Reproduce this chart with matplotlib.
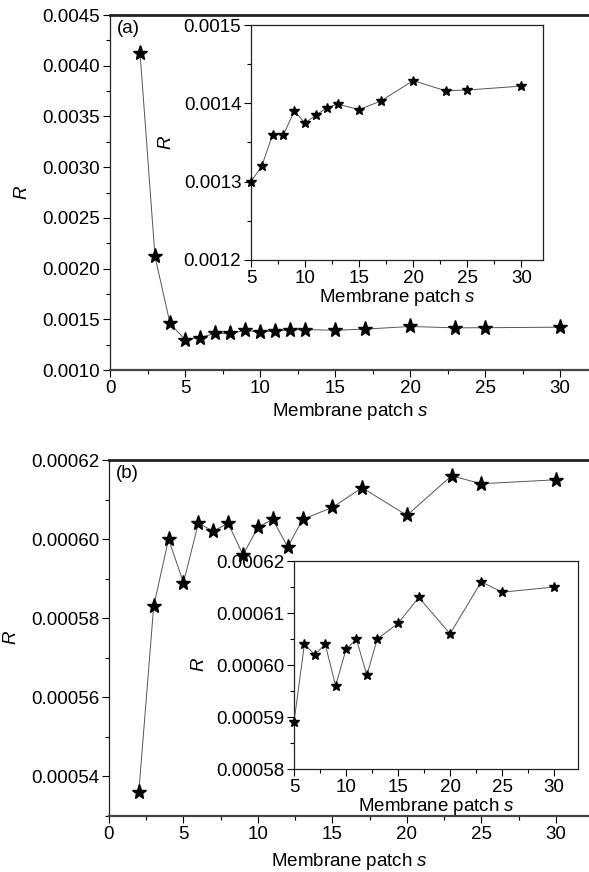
import numpy as np
import matplotlib
matplotlib.use("Agg")
import matplotlib.pyplot as plt
from matplotlib.ticker import MultipleLocator, FormatStrFormatter

plt.rcParams['font.family'] = ['Liberation Sans', 'DejaVu Sans']
plt.rcParams['font.size'] = 13.5
plt.rcParams['mathtext.fontset'] = 'custom'
plt.rcParams['mathtext.it'] = 'Liberation Sans:italic'

# membrane patch sizes
s = [2, 3, 4, 5, 6, 7, 8, 9, 10, 11, 12, 13, 15, 17, 20, 23, 25, 30]

# panel (a)
R_a = [0.00413, 0.00212, 0.00146, 0.00130, 0.00132, 0.00136, 0.00136, 0.00139,
       0.001375, 0.001385, 0.001394, 0.001399, 0.001392, 0.001403, 0.001429,
       0.001416, 0.001417, 0.001422]

# panel (b)
R_b = [0.000536, 0.000583, 0.000600, 0.000589, 0.000604, 0.000602, 0.000604,
       0.000596, 0.000603, 0.000605, 0.000598, 0.000605, 0.000608, 0.000613,
       0.000606, 0.000616, 0.000614, 0.000615]

W, H = 589, 872
fig = plt.figure(figsize=(W / 100, H / 100), dpi=100)


def box(l, t, r, b):
    return [l / W, 1 - b / H, (r - l) / W, (b - t) / H]


def style(ax, main):
    ax.tick_params(which='major', direction='out', length=5, width=0.8,
                   labelsize=13.5, pad=2)
    ax.tick_params(which='minor', direction='out', length=3, width=0.8)
    for sp in ax.spines.values():
        sp.set_linewidth(0.9)
        sp.set_color('#222222')
    if main:
        ax.spines['right'].set_visible(False)
        ax.spines['top'].set_linewidth(2.0)
        ax.spines['bottom'].set_linewidth(1.6)
        ax.spines['bottom'].set_color('#444444')


def draw(ax, x, y, ms):
    ax.plot(x, y, '-', color='#555555', lw=0.7, marker='*', ms=ms,
            mfc='black', mec='black', clip_on=False, zorder=3)


xlabel = 'Membrane patch $s$'

# ---- (a) main
ax1 = fig.add_axes(box(110, 15, 590, 370))
draw(ax1, s, R_a, 11)
ax1.set_xlim(0, 32)
ax1.set_ylim(0.0010, 0.0045)
ax1.xaxis.set_major_locator(MultipleLocator(5))
ax1.xaxis.set_minor_locator(MultipleLocator(2.5))
ax1.yaxis.set_major_locator(MultipleLocator(0.0005))
ax1.yaxis.set_minor_locator(MultipleLocator(0.00025))
ax1.yaxis.set_major_formatter(FormatStrFormatter('%.4f'))
ax1.set_xlabel(xlabel, labelpad=3)
ax1.set_ylabel('$R$', labelpad=8)
style(ax1, True)
ax1.text(0.015, 0.985, '(a)', transform=ax1.transAxes, va='top', ha='left')

# ---- (a) inset
ax1i = fig.add_axes(box(251, 25, 543, 260))
draw(ax1i, s[3:], R_a[3:], 7)
ax1i.set_xlim(5, 32)
ax1i.set_ylim(0.0012, 0.0015)
ax1i.xaxis.set_major_locator(MultipleLocator(5))
ax1i.xaxis.set_minor_locator(MultipleLocator(2.5))
ax1i.yaxis.set_major_locator(MultipleLocator(0.0001))
ax1i.yaxis.set_minor_locator(MultipleLocator(0.00005))
ax1i.yaxis.set_major_formatter(FormatStrFormatter('%.4f'))
ax1i.set_xlabel(xlabel, labelpad=0)
ax1i.set_ylabel('$R$', labelpad=6)
style(ax1i, False)

# ---- (b) main
ax2 = fig.add_axes(box(109, 460, 590, 816))
draw(ax2, s, R_b, 11)
ax2.set_xlim(0, 32.3)
ax2.set_ylim(0.00053, 0.00062)
ax2.xaxis.set_major_locator(MultipleLocator(5))
ax2.xaxis.set_minor_locator(MultipleLocator(2.5))
ax2.yaxis.set_major_locator(MultipleLocator(0.00002))
ax2.yaxis.set_minor_locator(MultipleLocator(0.00001))
ax2.yaxis.set_major_formatter(FormatStrFormatter('%.5f'))
ax2.set_xlabel(xlabel, labelpad=6)
ax2.set_ylabel('$R$', labelpad=8)
style(ax2, True)
ax2.text(0.015, 0.985, '(b)', transform=ax2.transAxes, va='top', ha='left')

# ---- (b) inset
ax2i = fig.add_axes(box(294, 561, 578, 769))
draw(ax2i, s[3:], R_b[3:], 7)
ax2i.set_xlim(5, 32.3)
ax2i.set_ylim(0.00058, 0.00062)
ax2i.xaxis.set_major_locator(MultipleLocator(5))
ax2i.xaxis.set_minor_locator(MultipleLocator(2.5))
ax2i.yaxis.set_major_locator(MultipleLocator(0.00001))
ax2i.yaxis.set_minor_locator(MultipleLocator(0.000005))
ax2i.yaxis.set_major_formatter(FormatStrFormatter('%.5f'))
ax2i.set_xlabel(xlabel, labelpad=0)
ax2i.set_ylabel('$R$', labelpad=6)
style(ax2i, False)

fig.savefig('out.png', dpi=100)
